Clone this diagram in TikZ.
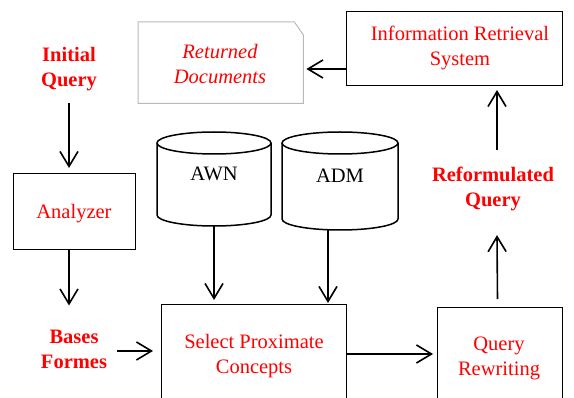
\documentclass[tikz,border=0pt]{standalone}
\usepackage{fontspec}
\setmainfont{Liberation Serif}
\usetikzlibrary{arrows.meta}
\definecolor{tred}{RGB}{255,0,0}
\definecolor{docgray}{RGB}{185,185,185}
\begin{document}
\begin{tikzpicture}[x=1pt,y=-1pt,
  box/.style={draw=black, line width=1pt, inner sep=0pt, anchor=north west},
  lbl/.style={text=tred, align=center, font=\fontsize{20.5}{25}\selectfont, inner sep=0pt},
  blbl/.style={text=tred, align=center, font=\fontsize{20.5}{25}\selectfont\bfseries, inner sep=0pt},
  dlbl/.style={align=center, font=\fontsize{20.5}{25}\selectfont, inner sep=0pt},
  arr/.style={line width=1.6pt, -{Straight Barb[length=15pt,width=18pt,line width=1.6pt]}},
  cyl/.style={draw=black, line width=1.5pt, fill=white}]
\useasboundingbox (0,0) rectangle (574,398);
% Returned documents
\node[inner sep=0pt, minimum width=165pt, minimum height=81pt, anchor=north west] (rd) at (138,22) {};
\draw[docgray, line width=1pt] (rd.north west) -- ([xshift=-9pt]rd.north east) -- ([yshift=-13pt]rd.north east) -- (rd.south east) -- (rd.south west) -- cycle;
\node[lbl, font=\fontsize{20.5}{25}\selectfont\itshape] (rdt) at (220,64) {Returned\\Documents};
% IRS
\node[box, minimum width=216pt, minimum height=74pt] (irs) at (346,11) {};
\node[lbl] (irst) at (460,48) {Information Retrieval\\System};
% Initial query
\node[blbl] (iq) at (69,69) {Initial\\Query};
% Analyzer
\node[box, minimum width=122pt, minimum height=76pt] (an) at (13,173) {};
\node[lbl] (ant) at (74,214) {Analyzer};
% Bases formes
\node[blbl] (bf) at (74,349) {Bases\\Formes};
% Cylinders
\draw[cyl] (157,143) -- (157,215) arc[start angle=180, end angle=0, x radius=57, y radius=11] -- (271,143);
\draw[cyl] (214,143) ellipse[x radius=57, y radius=11];
\node[dlbl] (awn) at (214,174) {AWN};
\coordinate (awnb) at (214,226);
\draw[cyl] (282,143) -- (282,219) arc[start angle=180, end angle=0, x radius=58, y radius=11] -- (398,143);
\draw[cyl] (340,143) ellipse[x radius=58, y radius=11];
\node[dlbl] (adm) at (340,176) {ADM};
\coordinate (admb) at (328,230);
% Select proximate concepts
\node[box, minimum width=185pt, minimum height=130pt] (sel) at (161,304) {};
\node[lbl] (selt) at (254,356) {Select Proximate\\Concepts};
% Query rewriting
\node[box, minimum width=125pt, minimum height=130pt] (qr) at (437,307) {};
\node[lbl] (qrt) at (499,358) {Query\\Rewriting};
% Reformulated query
\node[blbl] (rq) at (493,189) {Reformulated\\Query};
% Arrows
\draw[arr, shorten >=3pt] (irs.west |- 0,69) -- (rd.east |- 0,69);
\draw[arr, shorten >=5pt] ([yshift=-12pt]iq.south) -- (iq.south |- an.north);
\draw[arr] (an.south -| iq.south) -- ([yshift=24pt]bf.north -| iq.south);
\draw[arr, shorten <=10pt, shorten >=8pt] ([yshift=-2pt]bf.east) -- ([yshift=-2pt]bf.east -| sel.west);
\draw[arr, shorten >=4pt] (awnb) -- (awnb |- sel.north);
\draw[arr, shorten >=1pt] (admb) -- (admb |- sel.north);
\draw[arr, shorten >=4pt] (sel.east |- 0,354) -- (qr.west |- 0,354);
\draw[arr] ([xshift=-2.5pt,yshift=8pt]qr.north) -- ([xshift=4pt,yshift=-24pt]rq.south);
\draw[arr, shorten >=4pt] ([xshift=4pt,yshift=17pt]rq.north) -- ([xshift=4pt]rq.north |- irs.south);
\end{tikzpicture}
\end{document}
